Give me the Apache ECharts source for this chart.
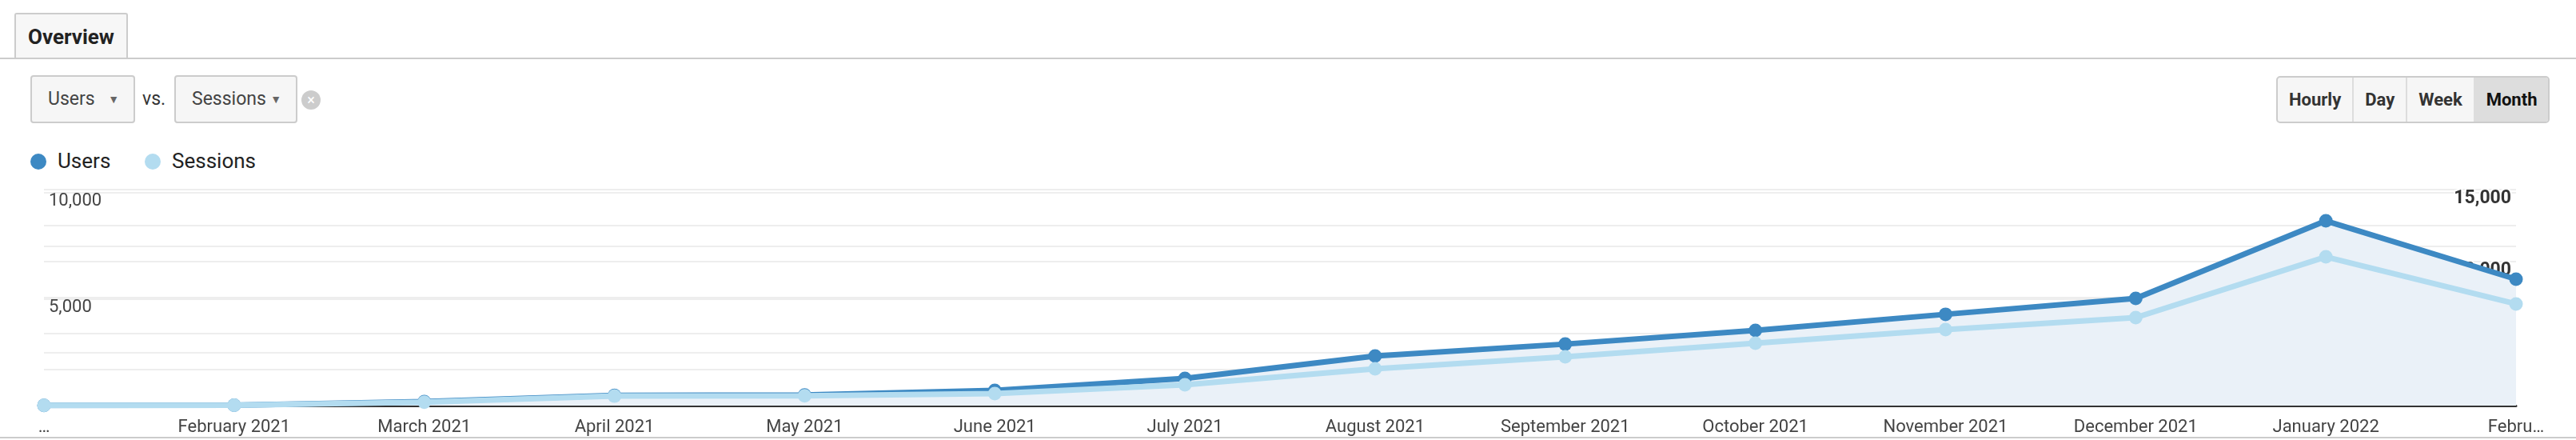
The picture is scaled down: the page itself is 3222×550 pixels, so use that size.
<!DOCTYPE html>
<html><head><meta charset="utf-8">
<script src="https://cdn.jsdelivr.net/npm/echarts@6/dist/echarts.min.js"></script>
<style>
body{margin:0;width:3222px;height:550px;background:#fff;font-family:Roboto,Arial,sans-serif;position:relative;overflow:hidden}
.abs{position:absolute}
#tab{left:18px;top:16px;width:142px;height:58px;border:2px solid #ccc;border-bottom:none;border-radius:3px 3px 0 0;background:#f7f7f7;box-sizing:border-box;font-weight:bold;font-size:26px;color:#222;line-height:56px;text-align:center}
#tabline{left:0;top:72px;width:3222px;height:2px;background:#ccc}
.dd{top:94px;height:60px;border:2px solid #ccc;border-radius:4px;background:#f6f6f6;box-sizing:border-box;font-size:23px;color:#444;line-height:56px;padding-left:20px}
.dd span{position:absolute;right:18px;top:0;font-size:14px;color:#666}
#vs{left:178px;top:110px;font-size:23px;color:#333}
#x{left:377px;top:113px;width:24px;height:24px;border-radius:12px;background:#ccc;color:#fff;font-size:18px;line-height:24px;text-align:center}
.lg{top:186px;font-size:26px;color:#222}
.dot{display:inline-block;width:20px;height:20px;border-radius:10px;vertical-align:-2px;margin-right:14px}
#btns{left:2847px;top:95px;height:59px;border:2px solid #ccc;border-radius:5px;display:flex;overflow:hidden;box-sizing:border-box;background:#f6f6f6}
#btns div{font-weight:bold;font-size:22px;color:#333;line-height:55px;padding:0 14px;border-right:2px solid #ddd}
#btns div:last-child{border-right:none;background:#ddd;color:#111}
#bottom{left:0;top:546px;width:3222px;height:2px;background:#ccc}
#chart{left:0;top:0;width:3222px;height:550px}
</style></head><body>
<div id="tab" class="abs">Overview</div>
<div id="tabline" class="abs"></div>
<div class="abs dd" style="left:38px;width:131px">Users<span>▼</span></div>
<div id="vs" class="abs">vs.</div>
<div class="abs dd" style="left:218px;width:154px">Sessions<span>▼</span></div>
<div id="x" class="abs">×</div>
<div class="abs lg" style="left:38px"><span class="dot" style="background:#3d89c3"></span>Users</div>
<div class="abs lg" style="left:181px"><span class="dot" style="background:#b3dcf0"></span>Sessions</div>
<div id="btns" class="abs"><div>Hourly</div><div>Day</div><div>Week</div><div>Month</div></div>
<div id="bottom" class="abs"></div>
<div id="chart" class="abs"></div>
<script>
const categories=['…','February 2021','March 2021','April 2021','May 2021','June 2021','July 2021','August 2021','September 2021','October 2021','November 2021','December 2021','January 2022','Febru…'];
const users=[10,20,190,480,500,710,1280,2330,2890,3530,4290,5040,8680,5940];
const sessions=[15,30,230,660,680,830,1440,2560,3390,4330,5280,6110,10330,7060];
const leftTicks=[5000,10000];
const rightTicks=[5000,10000,15000];
const c=echarts.init(document.getElementById('chart'));
c.setOption({
 animation:false,
 grid:{left:55,right:75,top:237,bottom:43},
 xAxis:{type:'category',boundaryGap:false,data:categories,
  axisLine:{lineStyle:{color:'#333',width:3}},axisTick:{show:false},
  axisLabel:{interval:0,color:'#444',fontSize:22,margin:16,fontFamily:'Roboto'}},
 yAxis:[
  {type:'value',min:0,max:10150,interval:2500,
   axisLine:{show:false},axisTick:{show:false},
   splitLine:{lineStyle:{color:'#eeeeee',width:2}},
   axisLabel:{inside:true,margin:6,verticalAlign:'top',color:'#444',fontSize:22,fontFamily:'Roboto',
    formatter:v=>leftTicks.includes(v)?v.toLocaleString('en-US'):''}},
  {type:'value',min:0,max:15000,interval:2500,position:'right',
   axisLine:{show:false},axisTick:{show:false},
   splitLine:{lineStyle:{color:'#eeeeee',width:2}},
   axisLabel:{inside:true,margin:6,verticalAlign:'top',color:'#333',fontWeight:'bold',fontSize:23,fontFamily:'Roboto',
    textBorderColor:'#fff',textBorderWidth:4,
    formatter:v=>rightTicks.includes(v)?v.toLocaleString('en-US'):''}}
 ],
 series:[
  {name:'Users',type:'line',yAxisIndex:0,data:users,symbol:'circle',symbolSize:17,
   lineStyle:{color:'#3d89c3',width:7},itemStyle:{color:'#3d89c3'},
   areaStyle:{color:'#eaf1f8',opacity:1},z:2},
  {name:'Sessions',type:'line',yAxisIndex:1,data:sessions,symbol:'circle',symbolSize:17,
   lineStyle:{color:'#b3dcf0',width:7},itemStyle:{color:'#b3dcf0'},z:3}
 ]
});
</script>
</body></html>
